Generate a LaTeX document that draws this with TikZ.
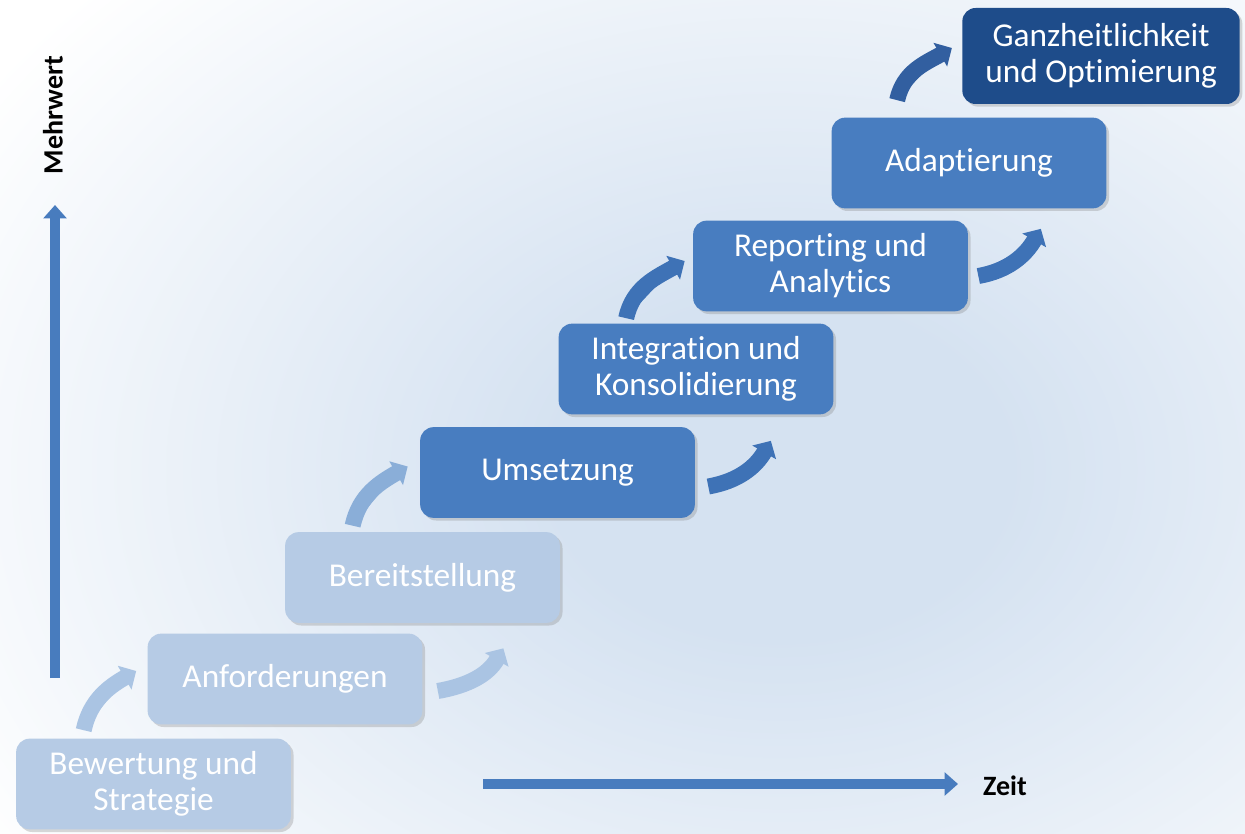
\documentclass[tikz,border=0pt]{standalone}
\usepackage{fontspec}
\setmainfont{Carlito}[Ligatures=NoCommon]
\usetikzlibrary{arrows.meta,calc,shadows}

\definecolor{boxlight}{RGB}{182,203,229}
\definecolor{boxmid}{RGB}{72,125,192}
\definecolor{boxdark}{RGB}{30,76,138}
\definecolor{arrlight}{RGB}{170,196,227}
\definecolor{arrmix}{RGB}{138,174,216}
\definecolor{arrmid}{RGB}{62,114,182}
\definecolor{arrdark}{RGB}{50,95,160}
\definecolor{axisblue}{RGB}{72,124,190}
\definecolor{bgblue}{RGB}{213,226,241}
\pgfdeclareradialshading{bgglow}{\pgfpoint{0bp}{0bp}}{color(0bp)=(bgblue); color(6bp)=(bgblue); color(25bp)=(white); color(50bp)=(white)}

\tikzset{every picture/.style={line width=0.75pt}}
\tikzset{
  stepbox/.style={rounded corners=10pt, minimum width=206pt, minimum height=68pt, align=center, text=white,
    font=\fontsize{25}{27}\selectfont, drop shadow={shadow xshift=2pt, shadow yshift=-2pt, opacity=0.3}},
  steparrow/.style={line width=12pt, -{Triangle[length=10pt,width=20pt]}},
  axisarrow/.style={draw=axisblue, line width=7pt, -{Triangle[length=10pt,width=17pt]}},
  axislabel/.style={font=\fontsize{21}{24}\selectfont\bfseries, inner sep=0pt}
}

\begin{document}
\begin{tikzpicture}[x=0.75pt,y=0.75pt,yscale=-1,xscale=1]
\useasboundingbox (0,0) rectangle (1245,834);

%Shape: Background
\begin{scope}
\clip (0,0) rectangle (1245,834);
\fill[white] (0,0) rectangle (1245,834);
\shade[shading=bgglow] (-170,-230) rectangle (1730,1170);
\end{scope}

%Shape: Rounded Rectangles
\node[stepbox, fill=boxlight] (b1) at (153.5,784) {Bewertung und\\Strategie};
\node[stepbox, fill=boxlight] (b2) at (285,679) {Anforderungen};
\node[stepbox, fill=boxlight] (b3) at (422.5,577.5) {Bereitstellung};
\node[stepbox, fill=boxmid] (b4) at (557.5,472.5) {Umsetzung};
\node[stepbox, fill=boxmid] (b5) at (696,369) {Integration und\\Konsolidierung};
\node[stepbox, fill=boxmid] (b6) at (830.5,266) {Reporting und\\Analytics};
\node[stepbox, fill=boxmid] (b7) at (969,163) {Adaptierung};
\node[stepbox, fill=boxdark, minimum width=208pt, minimum height=72pt] (b8) at (1101,56) {Ganzheitlichkeit\\und Optimierung};

%Curve Arrows
\draw[steparrow, draw=arrlight, fill=arrlight] ($(b1.north west)+(68,-8)$) to[out=-78,in=150] ($(b2.west)+(-11,-8)$);
\draw[steparrow, draw=arrlight, fill=arrlight] ($(b2.east)+(15,12)$) to[out=-10,in=120] ($(b3.south east)+(-57,25)$);
\draw[steparrow, draw=arrmix, fill=arrmix] ($(b3.north west)+(68,-6)$) to[out=-78,in=150] ($(b4.west)+(-12,-6)$);
\draw[steparrow, draw=arrmid, fill=arrmid] ($(b4.east)+(13,14)$) to[out=-10,in=120] ($(b5.south east)+(-63,26)$);
\draw[steparrow, draw=arrmid, fill=arrmid] ($(b5.north west)+(68,-5)$) to[out=-78,in=150] ($(b6.west)+(-8,-5)$);
\draw[steparrow, draw=arrmid, fill=arrmid] ($(b6.east)+(10,10)$) to[out=-10,in=120] ($(b7.south east)+(-66,20)$);
\draw[steparrow, draw=arrdark, fill=arrdark] ($(b7.north west)+(66,-17)$) to[out=-78,in=150] ($(b8.west)+(-10,-8)$);

%Straight Lines: axes
\coordinate (v0) at (55,678);
\coordinate (v1) at (55,205);
\coordinate (h0) at (483,784);
\coordinate (h1) at (958,784);
\draw[axisarrow] (v0) -- (v1);
\draw[axisarrow] (h0) -- (h1);

% Text Node
\node[axislabel, rotate=90] (mehrwert) at (53,115) {Mehrwert};
% Text Node
\node[axislabel] (zeit) at (1005,786) {Zeit};

\end{tikzpicture}
\end{document}
